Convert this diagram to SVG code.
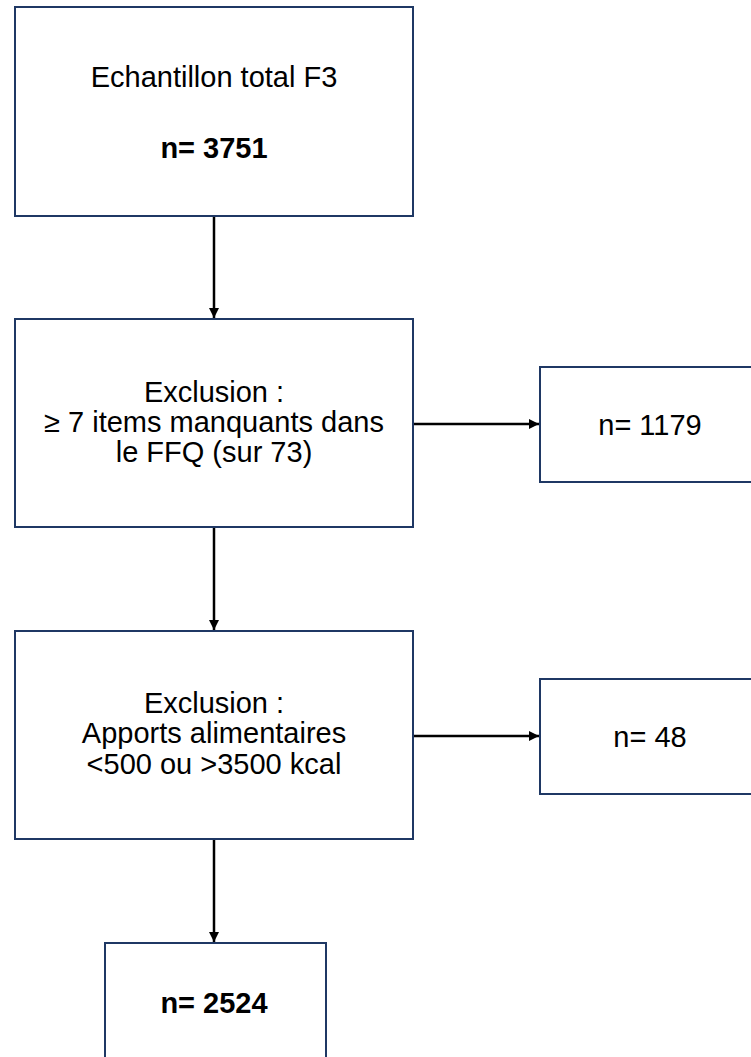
<svg xmlns="http://www.w3.org/2000/svg" width="751" height="1057" viewBox="0 0 751 1057">
<defs>
<style>
.box{fill:#fff;stroke:#1F3864;stroke-width:2}
.t{font-family:"Liberation Sans",Arial,sans-serif;font-size:29px;fill:#000;text-anchor:middle}
.b{font-weight:bold}
.c{stroke:#000;stroke-width:2.5;fill:none}
</style>
<marker id="ah" viewBox="0 0 10 10" refX="10" refY="5" markerWidth="4" markerHeight="4" orient="auto" markerUnits="strokeWidth">
<path d="M0,0 L10,5 L0,10 z" fill="#000"/>
</marker>
</defs>
<rect width="751" height="1057" fill="#fff"/>
<g id="connectors">
<line class="c" x1="214" y1="217" x2="214" y2="318" marker-end="url(#ah)"/>
<line class="c" x1="214" y1="528" x2="214" y2="630" marker-end="url(#ah)"/>
<line class="c" x1="214" y1="840" x2="214" y2="942" marker-end="url(#ah)"/>
<line class="c" x1="414" y1="424" x2="539" y2="424" marker-end="url(#ah)"/>
<line class="c" x1="414" y1="736" x2="539" y2="736" marker-end="url(#ah)"/>
</g>
<g id="n1">
<rect class="box" x="15" y="7" width="398" height="209"/>
<text class="t" x="214" y="87">Echantillon total F3</text>
<text class="t b" x="214" y="158">n= 3751</text>
</g>
<g id="n2">
<rect class="box" x="15" y="319" width="398" height="208"/>
<text class="t" x="214" y="402">Exclusion :</text>
<text class="t" x="214" y="432">≥ 7 items manquants dans</text>
<text class="t" x="214" y="462">le FFQ (sur 73)</text>
</g>
<g id="n3">
<rect class="box" x="540" y="367" width="220" height="115"/>
<text class="t" x="650" y="435">n= 1179</text>
</g>
<g id="n4">
<rect class="box" x="15" y="631" width="398" height="208"/>
<text class="t" x="214" y="713">Exclusion :</text>
<text class="t" x="214" y="743">Apports alimentaires</text>
<text class="t" x="214" y="774">&lt;500 ou &gt;3500 kcal</text>
</g>
<g id="n5">
<rect class="box" x="540" y="679" width="220" height="115"/>
<text class="t" x="650" y="747">n= 48</text>
</g>
<g id="n6">
<rect class="box" x="105" y="943" width="221" height="130"/>
<text class="t b" x="214" y="1013">n= 2524</text>
</g>
</svg>
